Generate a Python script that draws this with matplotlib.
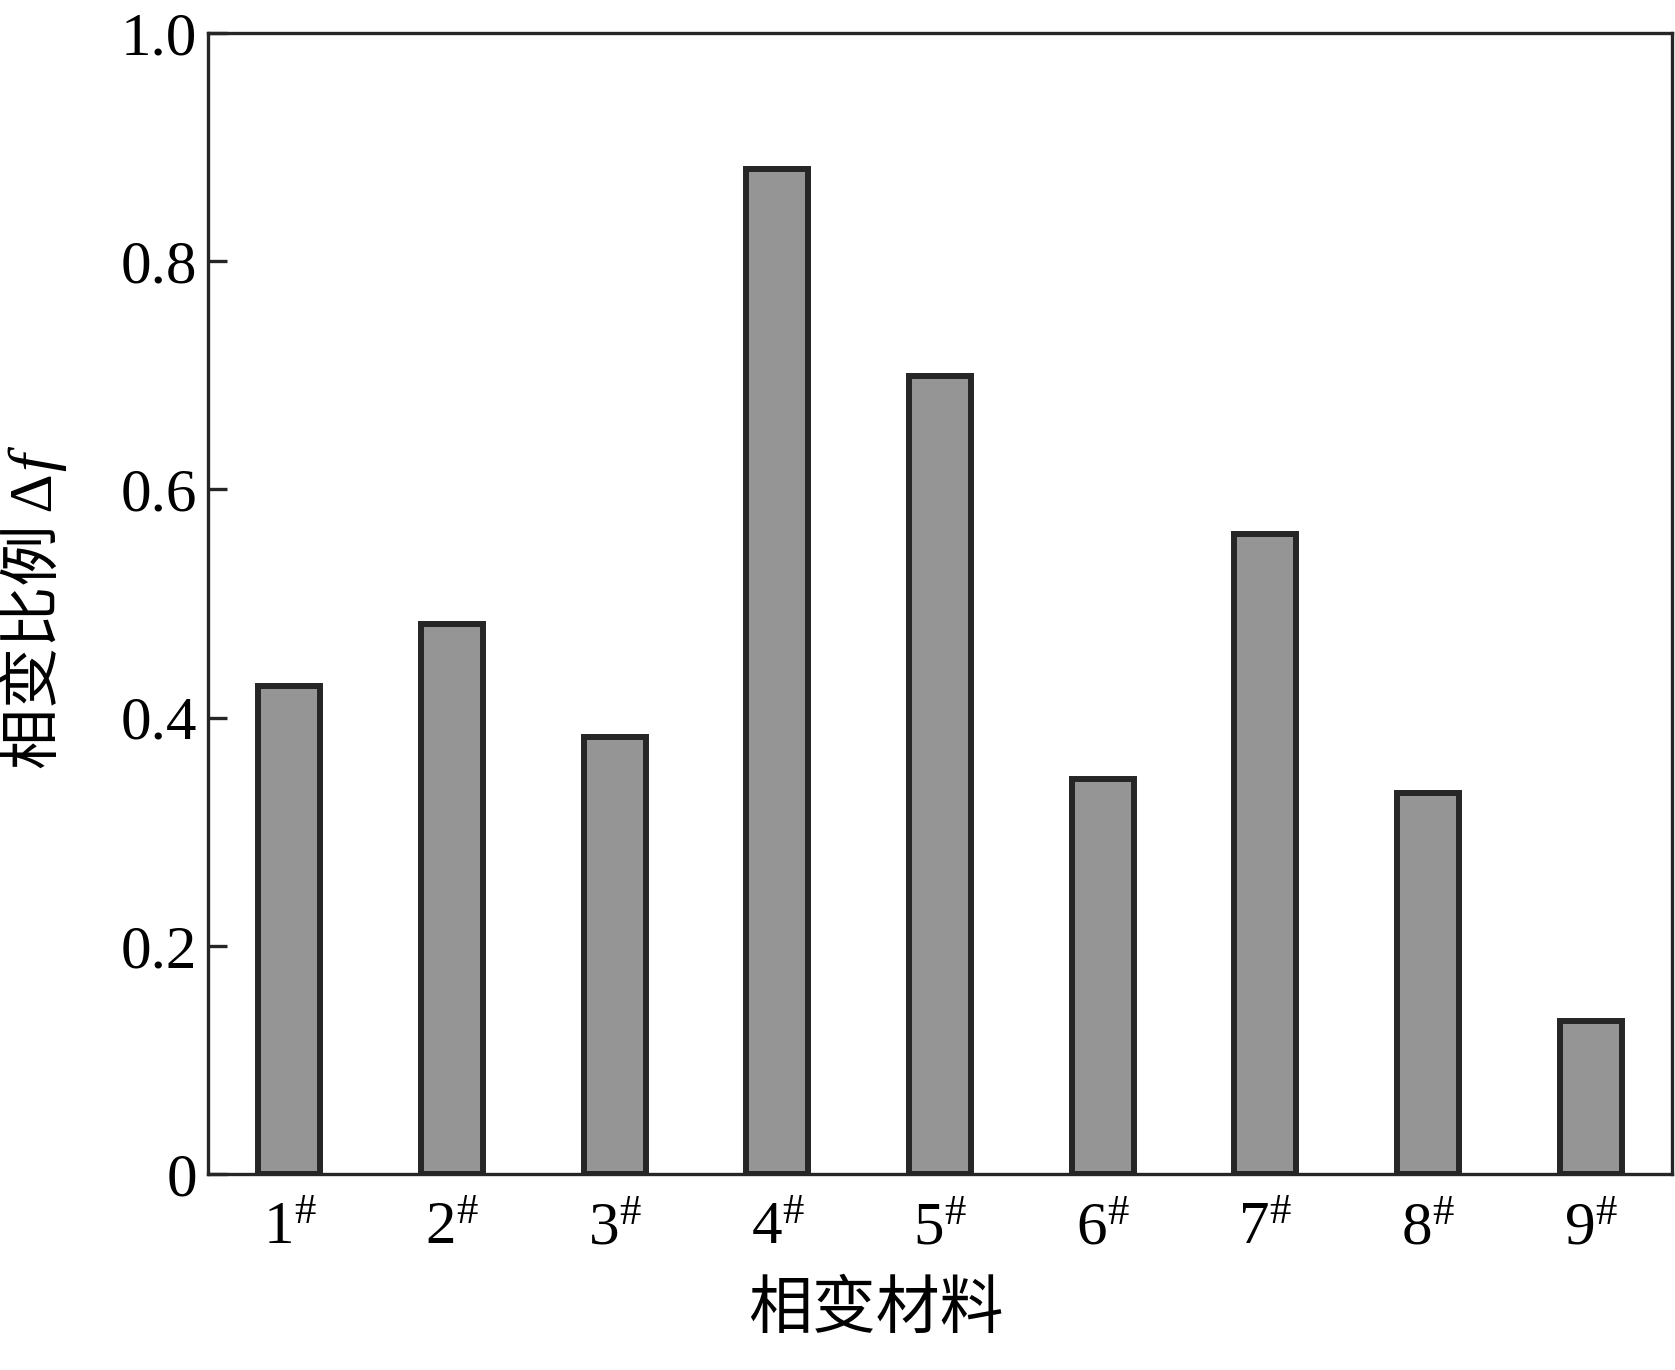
import matplotlib
matplotlib.use("Agg")
import matplotlib.pyplot as plt

categories = ["1", "2", "3", "4", "5", "6", "7", "8", "9"]
values = [0.428, 0.482, 0.383, 0.881, 0.699, 0.346, 0.561, 0.334, 0.134]
yticks = [0, 0.2, 0.4, 0.6, 0.8, 1.0]
yticklabels = ["0", "0.2", "0.4", "0.6", "0.8", "1.0"]

plt.rcParams['font.family'] = ['Liberation Serif', 'Noto Sans CJK SC', 'DejaVu Sans']
plt.rcParams['mathtext.fontset'] = 'custom'
plt.rcParams['mathtext.rm'] = 'Liberation Serif'
plt.rcParams['mathtext.it'] = 'Liberation Serif:italic'
plt.rcParams['mathtext.bf'] = 'Liberation Serif:bold'

W, H = 1675, 1370
fig = plt.figure(figsize=(W / 100, H / 100), dpi=100)
ax = fig.add_axes([0.1242, 0.1431, 0.874, 0.8328])

x = list(range(1, len(categories) + 1))
ax.bar(x, values, width=0.38, color='#959595', edgecolor='#262626', linewidth=4.3, zorder=3)

ax.set_xlim(0.5, 9.5)
ax.set_ylim(0, 1.0)
ax.set_yticks(yticks)
ax.set_yticklabels(yticklabels)
ax.set_xticks(x)
ax.set_xticklabels([r'$\mathregular{' + c + r'^{\#}}$' for c in categories])

for s in ax.spines.values():
    s.set_linewidth(2.4)
    s.set_color('#262626')

ax.tick_params(axis='y', direction='in', length=14, width=2.4, color='#262626', labelsize=44, pad=8)
ax.tick_params(axis='x', direction='in', length=0, labelsize=44, pad=20)

ax.set_xlabel('相变材料', fontsize=46, labelpad=18)
ax.xaxis.set_label_coords(0.456, -0.095)

# y label: CJK part plus italic f, as two texts
t1 = fig.text(37 / W, 1 - 769 / H, '相变比例 Δ', rotation=90, fontsize=44,
              ha='center', va='bottom',
              family=['Liberation Serif', 'Noto Sans CJK SC', 'DejaVu Sans'])
renderer = fig.canvas.get_renderer()
bb = t1.get_window_extent(renderer=renderer)
fig.text(37 / W, bb.y1 / H + 0.002, 'f', rotation=90, fontsize=46, style='italic',
         ha='center', va='bottom', family='Liberation Serif')

fig.savefig('out.png', dpi=100)
